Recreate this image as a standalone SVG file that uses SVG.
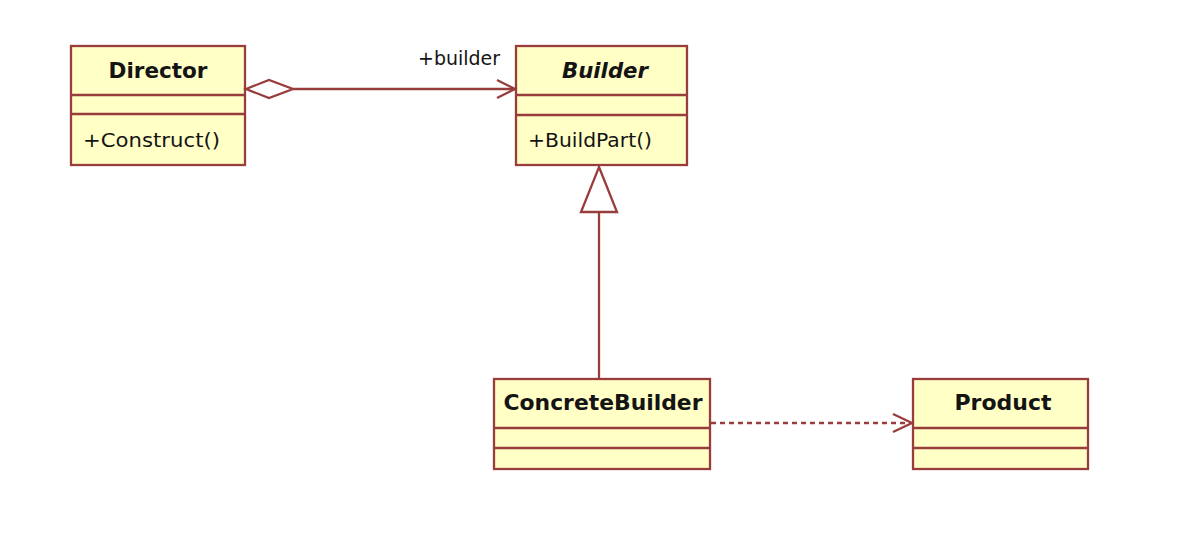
<svg xmlns="http://www.w3.org/2000/svg" width="1192" height="552" viewBox="0 0 1192 552">
<style>
.box{fill:#ffffc6;stroke:#983c3c;stroke-width:2.3}
.div{stroke:#983c3c;stroke-width:2.3}
.name{font-family:"DejaVu Sans",Verdana,sans-serif;font-weight:bold;font-size:20.5px;fill:#141414;text-anchor:middle}
.op{font-family:"DejaVu Sans",Verdana,sans-serif;font-size:19.5px;fill:#141414}
.ln{fill:none;stroke:#983c3c;stroke-width:2.3}
</style>
<rect width="1192" height="552" fill="#ffffff"/>
<g id="Director">
<rect class="box" x="71" y="46" width="174" height="119"/>
<line class="div" x1="71" y1="95" x2="245" y2="95"/>
<line class="div" x1="71" y1="114" x2="245" y2="114"/>
<text class="name" x="158" y="78" textLength="99" lengthAdjust="spacingAndGlyphs">Director</text>
<text class="op" x="83" y="147" textLength="137" lengthAdjust="spacingAndGlyphs">+Construct()</text>
</g>
<g id="Builder">
<rect class="box" x="516" y="46" width="171" height="119"/>
<line class="div" x1="516" y1="95" x2="687" y2="95"/>
<line class="div" x1="516" y1="115" x2="687" y2="115"/>
<text class="name" x="605" y="78" font-style="italic" textLength="86" lengthAdjust="spacingAndGlyphs">Builder</text>
<text class="op" x="528" y="147" textLength="124" lengthAdjust="spacingAndGlyphs">+BuildPart()</text>
</g>
<g id="ConcreteBuilder">
<rect class="box" x="494" y="379" width="216" height="90"/>
<line class="div" x1="494" y1="428" x2="710" y2="428"/>
<line class="div" x1="494" y1="448" x2="710" y2="448"/>
<text class="name" x="603" y="410" textLength="199" lengthAdjust="spacingAndGlyphs">ConcreteBuilder</text>
</g>
<g id="Product">
<rect class="box" x="913" y="379" width="175" height="90"/>
<line class="div" x1="913" y1="428" x2="1088" y2="428"/>
<line class="div" x1="913" y1="448" x2="1088" y2="448"/>
<text class="name" x="1003" y="410" textLength="97" lengthAdjust="spacingAndGlyphs">Product</text>
</g>
<g id="connectors">
<polygon class="ln" points="246,89 269,80 293,89 269,98" fill="#ffffff"/>
<line class="ln" x1="293" y1="89" x2="515" y2="89"/>
<polyline class="ln" points="497,80 515,89 497,98"/>
<text class="op" x="418" y="65" textLength="82" lengthAdjust="spacingAndGlyphs">+builder</text>
<line class="ln" x1="599" y1="212" x2="599" y2="379"/>
<polygon class="ln" points="599,167 617,212 581,212" fill="#ffffff"/>
<line class="ln" x1="711" y1="423" x2="911" y2="423" stroke-dasharray="5,4"/>
<polyline class="ln" points="893,414 912,423 893,432"/>
</g>
</svg>
